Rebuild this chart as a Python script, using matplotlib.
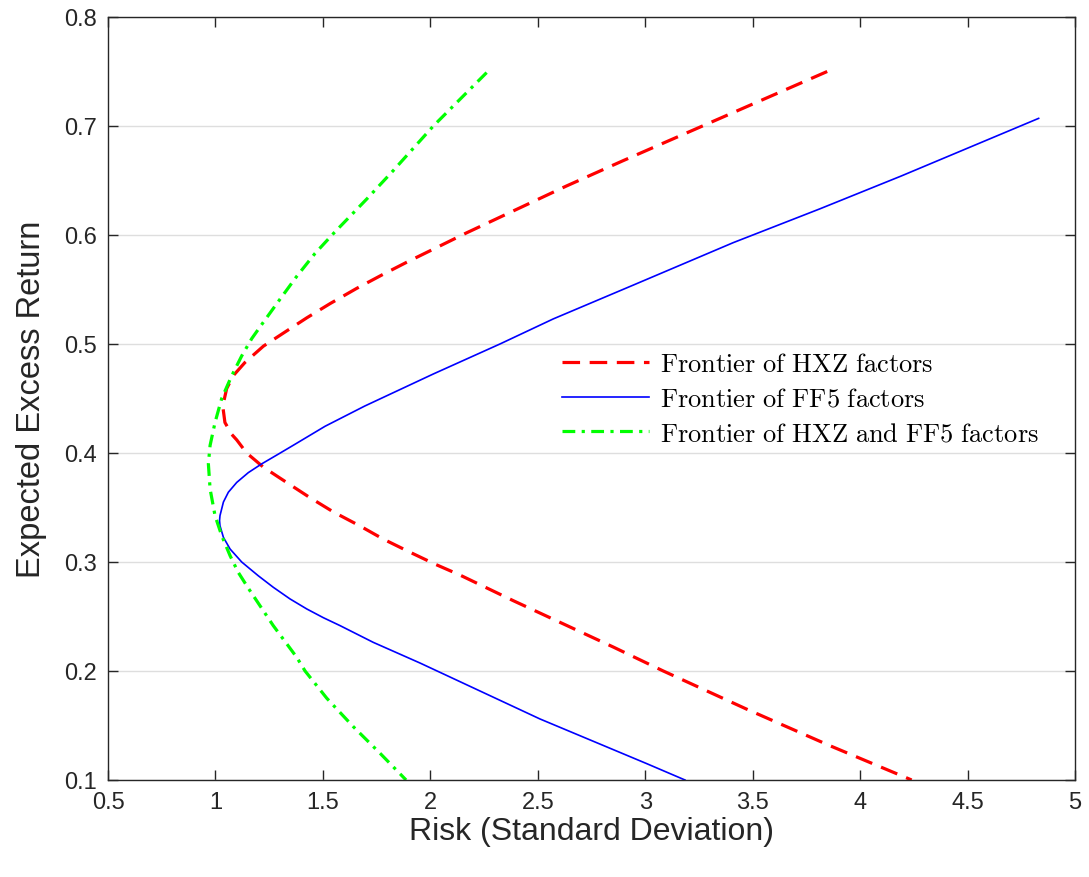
import matplotlib
matplotlib.use("Agg")
import matplotlib.pyplot as plt

plt.rcParams['font.family'] = ['Liberation Sans', 'DejaVu Sans']
plt.rcParams['mathtext.fontset'] = 'cm'

# ---- data (risk, expected excess return) ----
hxz_risk = [3.847, 3.429, 3.255, 2.895, 2.634, 2.169, 2.014, 1.890, 1.781, 1.657,
            1.533, 1.425, 1.316, 1.223, 1.137, 1.083, 1.052, 1.034, 1.044, 1.076,
            1.099, 1.145, 1.223, 1.300, 1.440, 1.548, 1.673, 1.781, 1.905, 2.022,
            2.138, 2.386, 2.851, 3.084, 3.472, 3.859, 4.240]
hxz_ret = [0.750, 0.714, 0.699, 0.668, 0.645, 0.602, 0.587, 0.575, 0.564, 0.551,
           0.537, 0.524, 0.510, 0.498, 0.483, 0.471, 0.459, 0.443, 0.428, 0.417,
           0.412, 0.400, 0.387, 0.377, 0.359, 0.346, 0.333, 0.321, 0.309, 0.298,
           0.288, 0.2645, 0.222, 0.200, 0.165, 0.1315, 0.100]

ff5_risk = [4.831, 4.190, 3.813, 3.410, 2.944, 2.572, 2.324, 2.014, 1.694, 1.510,
            1.370, 1.293, 1.215, 1.153, 1.099, 1.060, 1.037, 1.021, 1.019, 1.021,
            1.037, 1.068, 1.122, 1.161, 1.199, 1.269, 1.347, 1.425, 1.502, 1.580,
            1.734, 1.952, 2.510, 3.007, 3.185]
ff5_ret = [0.707, 0.654, 0.624, 0.593, 0.554, 0.523, 0.500, 0.4725, 0.443, 0.4245,
           0.408, 0.399, 0.390, 0.382, 0.373, 0.364, 0.355, 0.3425, 0.338, 0.3333,
           0.3226, 0.3119, 0.300, 0.2936, 0.2874, 0.2768, 0.2661, 0.2569, 0.2489, 0.2416,
           0.2263, 0.2073, 0.156, 0.115, 0.100]

both_risk = [2.262, 2.014, 1.827, 1.704, 1.552, 1.463, 1.378, 1.300, 1.223, 1.169,
             1.122, 1.076, 1.029, 0.998, 0.975, 0.967, 0.975, 0.998, 1.029, 1.068,
             1.106, 1.150, 1.176, 1.269, 1.378, 1.417, 1.518, 1.641, 1.766, 1.887]
both_ret = [0.749, 0.700, 0.659, 0.633, 0.602, 0.583, 0.562, 0.541, 0.520, 0.505,
            0.489, 0.471, 0.450, 0.428, 0.407, 0.390, 0.367, 0.3425, 0.3242, 0.3058,
            0.2905, 0.2768, 0.2691, 0.2416, 0.2126, 0.200, 0.175, 0.149, 0.1245, 0.100]

labels = [r'$\mathrm{Frontier\ of\ HXZ\ factors}$',
          r'$\mathrm{Frontier\ of\ FF5\ factors}$',
          r'$\mathrm{Frontier\ of\ HXZ\ and\ FF5\ factors}$']

xticks = [0.5, 1, 1.5, 2, 2.5, 3, 3.5, 4, 4.5, 5]
yticks = [0.1, 0.2, 0.3, 0.4, 0.5, 0.6, 0.7, 0.8]

fig = plt.figure(figsize=(10.89, 8.78), dpi=100)
ax = fig.add_axes([0.0992, 0.1105, 0.8879, 0.869])

ax.plot(hxz_risk, hxz_ret, color=(1, 0, 0), lw=2.3, linestyle=(0, (5.5, 3)), label=labels[0])
ax.plot(ff5_risk, ff5_ret, color=(0, 0, 1), lw=1.2, label=labels[1])
ax.plot(both_risk, both_ret, color=(0, 1, 0), lw=2.3, linestyle=(0, (4, 2, 1, 2)), label=labels[2])

ax.set_xlim(0.5, 5)
ax.set_ylim(0.1, 0.8)
ax.set_xticks(xticks)
ax.set_yticks(yticks)
ax.set_xticklabels([f"{t:g}" for t in xticks])
ax.set_yticklabels([f"{t:g}" for t in yticks])
ax.yaxis.grid(True, color=(0.87, 0.87, 0.87), lw=1)
ax.set_axisbelow(True)
ax.tick_params(direction='in', length=7, width=1, colors=(0.15, 0.15, 0.15),
               labelsize=17, top=True, right=True, pad=8)
for s in ax.spines.values():
    s.set_color((0.15, 0.15, 0.15))
    s.set_linewidth(1)

ax.set_xlabel("Risk (Standard Deviation)", fontsize=23, color=(0.15, 0.15, 0.15), labelpad=2)
ax.set_ylabel("Expected Excess Return", fontsize=23.5, color=(0.15, 0.15, 0.15), labelpad=12)

ax.legend(loc='upper left', bbox_to_anchor=(0.4586, 0.5748), frameon=False, fontsize=19,
          handlelength=3.3, handletextpad=0.4, labelspacing=0.41, borderaxespad=0)

fig.savefig("out.png", dpi=100)
